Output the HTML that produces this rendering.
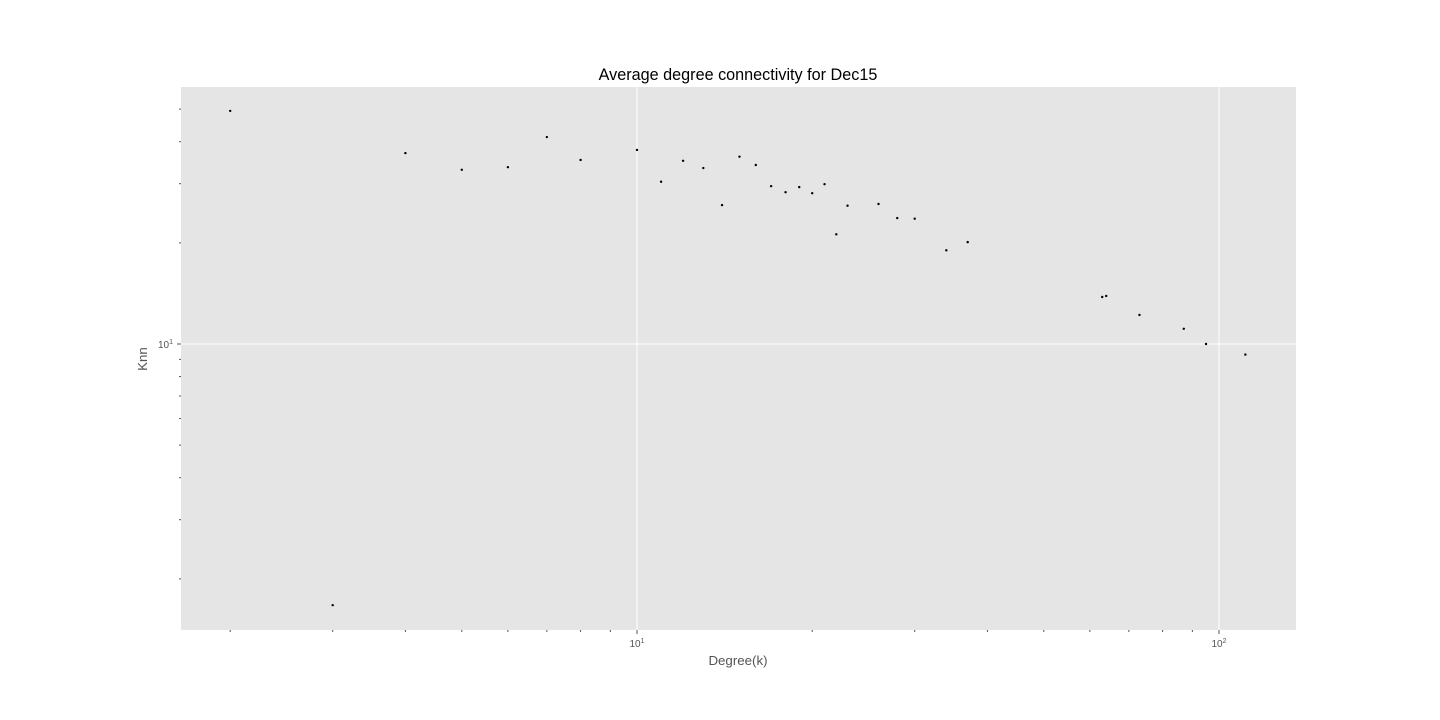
<!DOCTYPE html>
<html><head><meta charset="utf-8"><style>
body{margin:0;background:#fff;font-family:"Liberation Sans","DejaVu Sans",sans-serif}
svg{display:block}
</style></head><body>
<svg id="chart" width="1440" height="720" xmlns="http://www.w3.org/2000/svg">
<rect x="0" y="0" width="1440" height="720" fill="#fff"/>
<rect x="181" y="87" width="1115" height="543" fill="#e5e5e5"/>
<g id="grid"></g><g id="ticks"></g><g id="points"></g>
<text x="738" y="80" text-anchor="middle" font-size="16.2" fill="#000">Average degree connectivity for Dec15</text>
<text x="738" y="665" text-anchor="middle" font-size="13.3" fill="#555">Degree(k)</text>
<text x="147" y="359" text-anchor="middle" font-size="13.3" fill="#555" transform="rotate(-90 147 359)">Knn</text>
</svg>
<script>
const degrees=[2,3,4,5,6,7,8,10,11,12,13,14,15,16,17,18,19,20,21,22,23,26,28,30,34,37,63,64,73,87,95,111];
const knn=[49.4,1.67,37,33,33.6,41.3,35.3,37.8,30.4,35.1,33.4,25.9,36.1,34.1,29.5,28.3,29.3,28.1,29.9,21.2,25.8,26.1,23.7,23.6,19.0,20.1,13.8,13.9,12.2,11.1,10.0,9.3];
const xMajor=[10,100];
const xMinor=[2,3,4,5,6,7,8,9,20,30,40,50,60,70,80,90];
const yMajor=[10];
const yMinor=[2,3,4,5,6,7,8,9,20,30,40,50];
const NS="http://www.w3.org/2000/svg";
const X=v=>637+582*Math.log10(v/10);
const Y=v=>344-336*Math.log10(v/10);
function mk(t,a,p){const e=document.createElementNS(NS,t);for(const k in a)e.setAttribute(k,a[k]);p.appendChild(e);return e;}
const grid=document.getElementById('grid'),ticks=document.getElementById('ticks'),pts=document.getElementById('points');
xMajor.forEach(v=>{
  const l=mk('line',{x1:X(v),x2:X(v),y1:87,y2:630,stroke:'#fff','stroke-width':1},grid);
  
  
  mk('line',{x1:X(v),x2:X(v),y1:630,y2:634,stroke:'#555'},ticks);
  const t=mk('text',{x:X(v),y:647,'text-anchor':'middle','font-size':10,fill:'#555'},ticks);
  
  
  t.innerHTML='10<tspan dy="-4" font-size="7">'+Math.round(Math.log10(v))+'</tspan>';
});
xMinor.forEach(v=>{mk('line',{x1:X(v),x2:X(v),y1:630,y2:632,stroke:'#555'},ticks);});
yMajor.forEach(v=>{
  const l=mk('line',{x1:181,x2:1296,y1:Y(v),y2:Y(v),stroke:'#fff','stroke-width':1},grid);
  
  
  mk('line',{x1:177,x2:181,y1:Y(v),y2:Y(v),stroke:'#555'},ticks);
  const t=mk('text',{x:173,y:Y(v)+4,'text-anchor':'end','font-size':10,fill:'#555'},ticks);
  
  
  t.innerHTML='10<tspan dy="-4" font-size="7">'+Math.round(Math.log10(v))+'</tspan>';
});
yMinor.forEach(v=>{mk('line',{x1:179,x2:181,y1:Y(v),y2:Y(v),stroke:'#555'},ticks);});
degrees.forEach((d,i)=>{
  const c=mk('circle',{cx:X(d),cy:Y(knn[i]),r:1.2,fill:'#000'},pts);
  
  
});
</script>
</body></html>
